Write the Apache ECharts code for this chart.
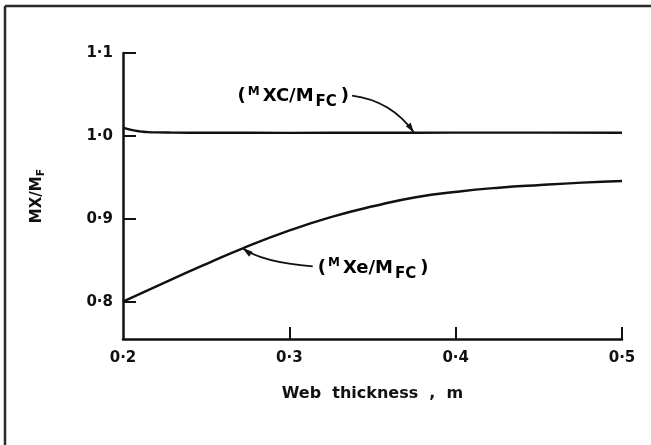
<!DOCTYPE html>
<html>
<head>
<meta charset="utf-8">
<script src="https://cdn.jsdelivr.net/npm/echarts@6/dist/echarts.min.js"></script>
<style>html,body{margin:0;padding:0;background:#fff;}#c{width:651px;height:445px;}</style>
</head>
<body>
<div id="c"></div>
<script>
// Data
const xTicks = [0.2, 0.3, 0.4, 0.5];
const xTickMarks = [0.3, 0.4, 0.5];
const yTicks = [0.8, 0.9, 1.0, 1.1];
const mxcX = [0.2, 0.205, 0.21, 0.215, 0.22, 0.23, 0.25, 0.3, 0.35, 0.4, 0.45, 0.5];
const mxcY = [1.0099, 1.0072, 1.0055, 1.0046, 1.0042, 1.004, 1.0038, 1.0037, 1.0038, 1.0039, 1.0039, 1.0038];
const mxeX = [0.2, 0.226, 0.251, 0.272, 0.301, 0.326, 0.351, 0.376, 0.401, 0.426, 0.451, 0.476, 0.5];
const mxeY = [0.800, 0.824, 0.8463, 0.8644, 0.8865, 0.9026, 0.9154, 0.926, 0.9327, 0.9375, 0.9408, 0.9436, 0.9456];
const annoPoints = [[0.375, 1.0039], [0.272, 0.8644]];

const FONT = 'DejaVu Sans';
const fmt = v => v.toFixed(1).replace('.', '·');
const zip = (a, b) => a.map((v, i) => [v, b[i]]);

const chart = echarts.init(document.getElementById('c'), null, {renderer: 'canvas'});
chart.setOption({
  backgroundColor: '#ffffff',
  animation: false,
  grid: {left: 123, right: 29, top: 53, bottom: 106, containLabel: false},
  xAxis: {
    type: 'value', min: 0.2, max: 0.5, interval: 0.1,
    name: 'Web  thickness  ,  m', nameLocation: 'middle', nameGap: 47,
    nameTextStyle: {fontFamily: FONT, fontWeight: 'bold', fontSize: 16, color: '#111'},
    axisLine: {show: true, lineStyle: {color: '#111', width: 2.5}},
    axisTick: {show: true, inside: true, length: 12, customValues: xTickMarks, lineStyle: {color: '#111', width: 2}},
    axisLabel: {customValues: xTicks, formatter: fmt, margin: 12, fontFamily: FONT, fontWeight: 'bold', fontSize: 15, color: '#111'},
    splitLine: {show: false}
  },
  yAxis: {
    type: 'value', min: 0.755, max: 1.1,
    name: '{b|MX/M}{s|F}', nameLocation: 'middle', nameGap: 76, nameRotate: 90,
    nameTextStyle: {rich: {
      b: {fontFamily: FONT, fontWeight: 'bold', fontSize: 15, color: '#111'},
      s: {fontFamily: FONT, fontWeight: 'bold', fontSize: 11, color: '#111', padding: [9, 0, 0, 0]}
    }},
    axisLine: {show: true, lineStyle: {color: '#111', width: 2.5}},
    axisTick: {show: true, inside: true, length: 13, customValues: yTicks, lineStyle: {color: '#111', width: 2}},
    axisLabel: {customValues: yTicks, formatter: fmt, margin: 10, fontFamily: FONT, fontWeight: 'bold', fontSize: 15, color: '#111'},
    splitLine: {show: false}
  },
  series: [
    {type: 'line', data: zip(mxcX, mxcY), smooth: true, showSymbol: false, lineStyle: {color: '#111', width: 2.4}},
    {type: 'line', data: zip(mxeX, mxeY), smooth: true, showSymbol: false, lineStyle: {color: '#111', width: 2.4}}
  ]
});

// Annotations anchored to data points
const p1 = chart.convertToPixel({gridIndex: 0}, annoPoints[0]);
const p2 = chart.convertToPixel({gridIndex: 0}, annoPoints[1]);
const rich = {
  p: {fontFamily: FONT, fontWeight: 'bold', fontSize: 18, color: '#111', padding: [0, 2, 0, 2]},
  u: {fontFamily: FONT, fontWeight: 'bold', fontSize: 12, color: '#111', padding: [0, 3, 10, 0]},
  n: {fontFamily: FONT, fontWeight: 'bold', fontSize: 18, color: '#111', padding: [0, 1, 0, 0]},
  d: {fontFamily: FONT, fontWeight: 'bold', fontSize: 15, color: '#111', padding: [11, 2, 0, 1]}
};
function arrowHead(tip, from) {
  const dx = tip[0] - from[0], dy = tip[1] - from[1];
  const L = Math.hypot(dx, dy), ux = dx / L, uy = dy / L;
  const len = 10, w = 3;
  return [tip, [tip[0] - ux * len - uy * w, tip[1] - uy * len + ux * w], [tip[0] - ux * len + uy * w, tip[1] - uy * len - ux * w]];
}
const a1s = [p1[0] - 62, p1[1] - 37], a1c = [p1[0] - 23, p1[1] - 32];
const a2s = [p2[0] + 70, p2[1] + 18], a2c = [p2[0] + 19, p2[1] + 14];
chart.setOption({
  graphic: [
    {type: 'line', shape: {x1: 5, y1: 6, x2: 651, y2: 6}, style: {stroke: '#2a2a2a', lineWidth: 2.5}},
    {type: 'line', shape: {x1: 5, y1: 6, x2: 5, y2: 445}, style: {stroke: '#2a2a2a', lineWidth: 2.5}},
    {type: 'text', x: a1s[0] - 1, y: a1s[1] + 1, style: {text: '{p|(}{u|M}{n|XC/M}{d|FC}{p|)}', rich: rich, align: 'right', verticalAlign: 'middle'}},
    {type: 'bezierCurve', shape: {x1: a1s[0], y1: a1s[1], cpx1: a1c[0], cpy1: a1c[1], x2: p1[0], y2: p1[1]}, style: {stroke: '#111', lineWidth: 1.8, fill: null}},
    {type: 'polygon', shape: {points: arrowHead(p1, a1c)}, style: {fill: '#111'}},
    {type: 'text', x: a2s[0] + 3, y: a2s[1] + 2, style: {text: '{p|(}{u|M}{n|Xe/M}{d|FC}{p|)}', rich: rich, align: 'left', verticalAlign: 'middle'}},
    {type: 'bezierCurve', shape: {x1: a2s[0], y1: a2s[1], cpx1: a2c[0], cpy1: a2c[1], x2: p2[0], y2: p2[1]}, style: {stroke: '#111', lineWidth: 1.8, fill: null}},
    {type: 'polygon', shape: {points: arrowHead(p2, a2c)}, style: {fill: '#111'}}
  ]
});
</script>
</body>
</html>
